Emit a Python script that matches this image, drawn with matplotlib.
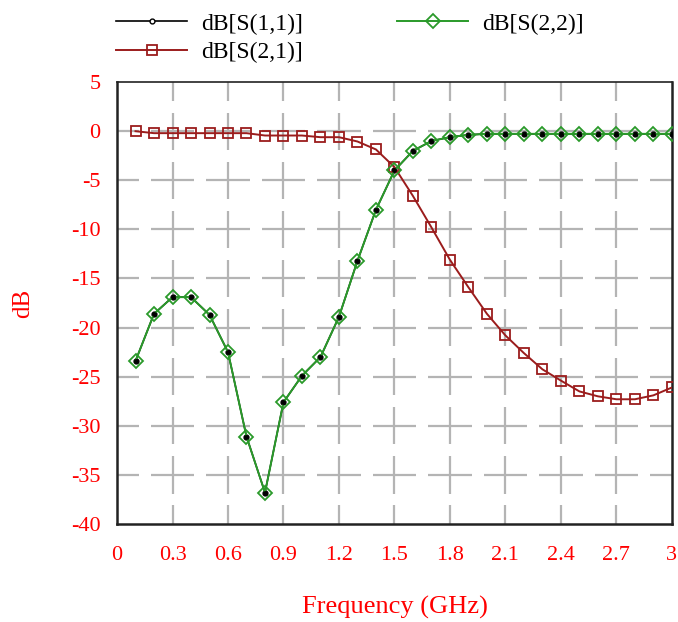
import matplotlib
matplotlib.use("Agg")
import matplotlib.pyplot as plt
import numpy as np

# frequency sweep (GHz)
freq = [0.1, 0.2, 0.3, 0.4, 0.5, 0.6, 0.7, 0.8, 0.9, 1.0,
        1.1, 1.2, 1.3, 1.4, 1.5, 1.6, 1.7, 1.8, 1.9, 2.0,
        2.1, 2.2, 2.3, 2.4, 2.5, 2.6, 2.7, 2.8, 2.9, 3.0]

# input / output reflection (symmetric network, S11 == S22)
s22 = [-23.4, -18.6, -16.9, -16.9, -18.7, -22.5, -31.1, -36.8, -27.6, -24.9,
       -23.0, -18.9, -13.2, -8.0, -4.0, -2.0, -1.0, -0.6, -0.37, -0.27,
       -0.27, -0.27, -0.27, -0.27, -0.27, -0.27, -0.27, -0.27, -0.27, -0.27]
s11 = list(s22)

# transmission
s21 = [0.0, -0.2, -0.2, -0.2, -0.2, -0.2, -0.2, -0.44, -0.44, -0.44,
       -0.61, -0.61, -1.05, -1.86, -3.66, -6.6, -9.8, -13.1, -15.9, -18.6,
       -20.8, -22.6, -24.25, -25.4, -26.5, -27.0, -27.3, -27.3, -26.9, -26.1]

xticks = [0, 0.3, 0.6, 0.9, 1.2, 1.5, 1.8, 2.1, 2.4, 2.7, 3]
xticklabels = ["0", "0.3", "0.6", "0.9", "1.2", "1.5", "1.8", "2.1", "2.4", "2.7", "3"]
yticks = [5, 0, -5, -10, -15, -20, -25, -30, -35, -40]

plt.rcParams['font.family'] = ['Liberation Serif', 'DejaVu Serif']
plt.rcParams['axes.unicode_minus'] = False

fig = plt.figure(figsize=(6.78, 6.22), dpi=100)
ax = fig.add_axes([0.1726, 0.1576, 0.8184, 0.7104])

xmin, xmax, ymin, ymax = 0, 3, -40, 5
ax.set_xlim(xmin, xmax)
ax.set_ylim(ymin, ymax)

# broken grid: dashes centred on the intersections, gaps midway between lines
gx = 0.065
gy = 1.2
xs = xticks
ys = sorted(yticks)
for y in ys[1:-1]:
    edges = [xmin] + [(xs[i] + xs[i + 1]) / 2 for i in range(len(xs) - 1)] + [xmax]
    for i in range(len(edges) - 1):
        a = edges[i] + (gx / 2 if i > 0 else 0)
        b = edges[i + 1] - (gx / 2 if i < len(edges) - 2 else 0)
        ax.plot([a, b], [y, y], color="#b4b4b4", lw=1.6, zorder=1,
                solid_capstyle="butt")
for x in xs[1:-1]:
    edges = [ymin] + [(ys[i] + ys[i + 1]) / 2 for i in range(len(ys) - 1)] + [ymax]
    for i in range(len(edges) - 1):
        a = edges[i] + (gy / 2 if i > 0 else 0)
        b = edges[i + 1] - (gy / 2 if i < len(edges) - 2 else 0)
        ax.plot([x, x], [a, b], color="#b4b4b4", lw=1.6, zorder=1,
                solid_capstyle="butt")

red = "#9b1c1c"
green = "#2a9a2a"

l11, = ax.plot(freq, s11, color="black", lw=1.2, marker="o", ms=3.5,
               mfc="white", mec="black", mew=1.0, zorder=3, label="dB[S(1,1)]")
l21, = ax.plot(freq, s21, color=red, lw=1.4, marker="s", ms=6.5,
               mfc="none", mec=red, mew=1.3, zorder=4, label="dB[S(2,1)]")
l22, = ax.plot(freq, s22, color=green, lw=1.4, marker="D", ms=7,
               mfc="none", mec=green, mew=1.3, zorder=4, label="dB[S(2,2)]")
# small black dots of S11 show through the diamonds
ax.plot(freq, s11, ls="none", marker="o", ms=2.5, color="black", zorder=5)

ax.set_xticks(xticks)
ax.set_xticklabels(xticklabels)
ax.set_yticks(yticks)
ax.tick_params(length=0, labelsize=16, labelcolor="red", pad=12)
ax.tick_params(axis="x", pad=16)

for side in ["left", "bottom", "right", "top"]:
    ax.spines[side].set_linewidth(1.8)
    ax.spines[side].set_color("#222222")
ax.spines["top"].set_linewidth(1.2)

ax.set_xlabel("Frequency (GHz)", color="red", fontsize=19, labelpad=22)
ax.set_ylabel("dB", color="red", fontsize=18, labelpad=26)

fig.legend(handles=[l11, l21, l22], ncol=2, loc="upper left",
           bbox_to_anchor=(0.14, 1.013), frameon=False, fontsize=17,
           handlelength=3.0, columnspacing=4.0, handletextpad=0.6,
           labelspacing=0.3)

fig.savefig("out.png", dpi=100)
